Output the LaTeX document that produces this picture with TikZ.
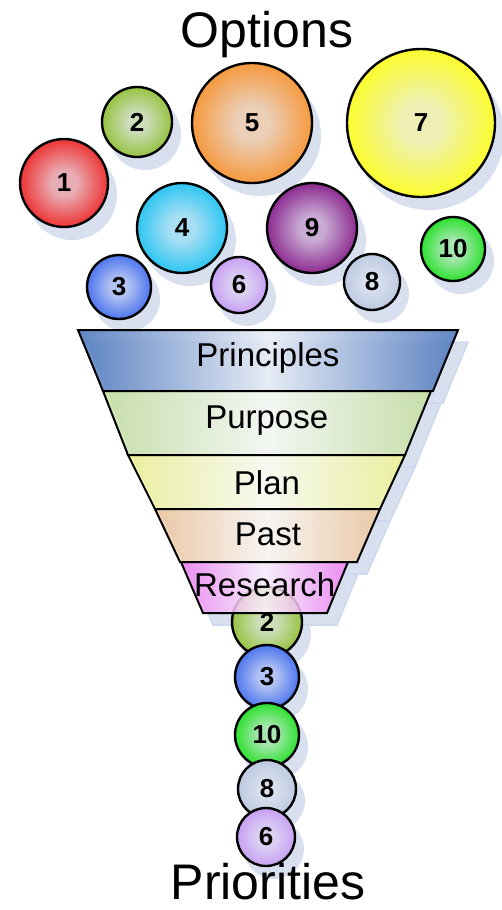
\documentclass[tikz,border=0pt]{standalone}
\usepackage{fontspec}
\setmainfont{Liberation Sans}
\usepackage{tikz}
\usetikzlibrary{positioning,calc}
\definecolor{ballred}{HTML}{EE2020}
\definecolor{ballgreen}{HTML}{8EBE2E}
\definecolor{ballorange}{HTML}{F7902A}
\definecolor{ballyellow}{HTML}{FFFF18}
\definecolor{ballcyan}{HTML}{18C2F2}
\definecolor{ballpurple}{HTML}{821686}
\definecolor{balllime}{HTML}{18E018}
\definecolor{ballblue}{HTML}{3C68EE}
\definecolor{balllav}{HTML}{C498F2}
\definecolor{ballgray}{HTML}{B8C6DE}
\definecolor{bandblue}{HTML}{4672BA}
\definecolor{bandgreen}{HTML}{C4DE9E}
\definecolor{bandyellow}{HTML}{EEF290}
\definecolor{bandtan}{HTML}{EEC59A}
\definecolor{bandpink}{HTML}{EE80F2}
\definecolor{shadowc}{HTML}{D8E0F0}
\definecolor{shadowd}{HTML}{CCD8EE}
\definecolor{paleblue}{HTML}{E6EAF4}
\colorlet{bin}{white}
\colorlet{bout}{gray}
\pgfdeclareradialshading[bin,bout]{ball}{\pgfpoint{0bp}{0bp}}%
  {color(0bp)=(bin); color(7bp)=(bin); color(28bp)=(bout); color(50bp)=(bout)}
\pgfdeclarelayer{bg}
\pgfsetlayers{bg,main}
\tikzset{
  bin/.code={\colorlet{bin}{#1}},
  bout/.code={\colorlet{bout}{#1}},
  ball/.style={circle, draw=black, line width=2.4pt, inner sep=0pt,
               bin=#1!30!paleblue, bout=#1, shading=ball,
               font=\fontsize{26}{30}\selectfont\bfseries},
  band/.style={draw=black, line width=2pt, left color=#1, right color=#1,
               middle color=#1!12!white, fill opacity=0.85},
  bandshadow/.style={fill=shadowc, draw=shadowd, line width=1.5pt},
  bandtext/.style={font=\fontsize{33}{36}\selectfont, inner sep=0pt},
  title/.style={font=\fontsize{50}{56}\selectfont, anchor=base, inner sep=0pt},
}
\begin{document}
\begin{tikzpicture}[x=1pt, y=-1pt]
  \useasboundingbox (0,0) rectangle (502,910);
  \node[title] (options) at (267,47) {Options};
  \node[title] (priorities) at (268,899) {Priorities};
  % the options
  \foreach \n/\x/\y/\rad/\col in {1/64/183/44/ballred, 2/137/122/35/ballgreen,
      5/252/123/60/ballorange, 7/421/123/74/ballyellow, 4/182/228/45/ballcyan,
      9/312/228/45/ballpurple, 10/453/249/32/balllime, 3/119/287/32/ballblue,
      6/239/285/28/balllav, 8/372/282/28/ballgray} {
    \begin{pgfonlayer}{bg}
      \fill[shadowc] (\x+8,\y+12) circle (\rad+1);
    \end{pgfonlayer}
    \node[ball=\col, minimum size=2*\rad] (o\n) at (\x,\y) {\n};
  }
  % the priorities
  \foreach \n/\x/\y/\rad/\col in {2/267/622/35/ballgreen, 3/267/677/32/ballblue,
      10/267/735/32/balllime, 8/267/789/29/ballgray, 6/266/837/29/balllav} {
    \begin{pgfonlayer}{bg}
      \fill[shadowc] (\x+8,\y+12) circle (\rad+1);
    \end{pgfonlayer}
    \node[ball=\col, minimum size=2*\rad] (p\n) at (\x,\y) {\n};
  }
  % the funnel
  \foreach \ya/\yb/\la/\ra/\lb/\rb/\ty/\col/\txt/\nm in {
      330/391/78/458/103/433/358/bandblue/Principles/princ,
      391/455/103/431/128/405/421/bandgreen/Purpose/purp,
      455/509/128/405/155/380/483/bandyellow/Plan/plan,
      509/562/155/380/180/357/534/bandtan/Past/past,
      562/613/181/348/203/327/585/bandpink/Research/research} {
    \begin{pgfonlayer}{bg}
      \path[bandshadow] (\la+10,\ya+12) -- (\ra+10,\ya+12) -- (\rb+10,\yb+12) -- (\lb+10,\yb+12) -- cycle;
    \end{pgfonlayer}
    \path[band=\col] (\la,\ya) -- (\ra,\ya) -- (\rb,\yb) -- (\lb,\yb) -- cycle;
    \node[bandtext] (\nm) at ({(\la+\ra+\lb+\rb)/4},\ty) {\txt};
  }
\end{tikzpicture}
\end{document}
